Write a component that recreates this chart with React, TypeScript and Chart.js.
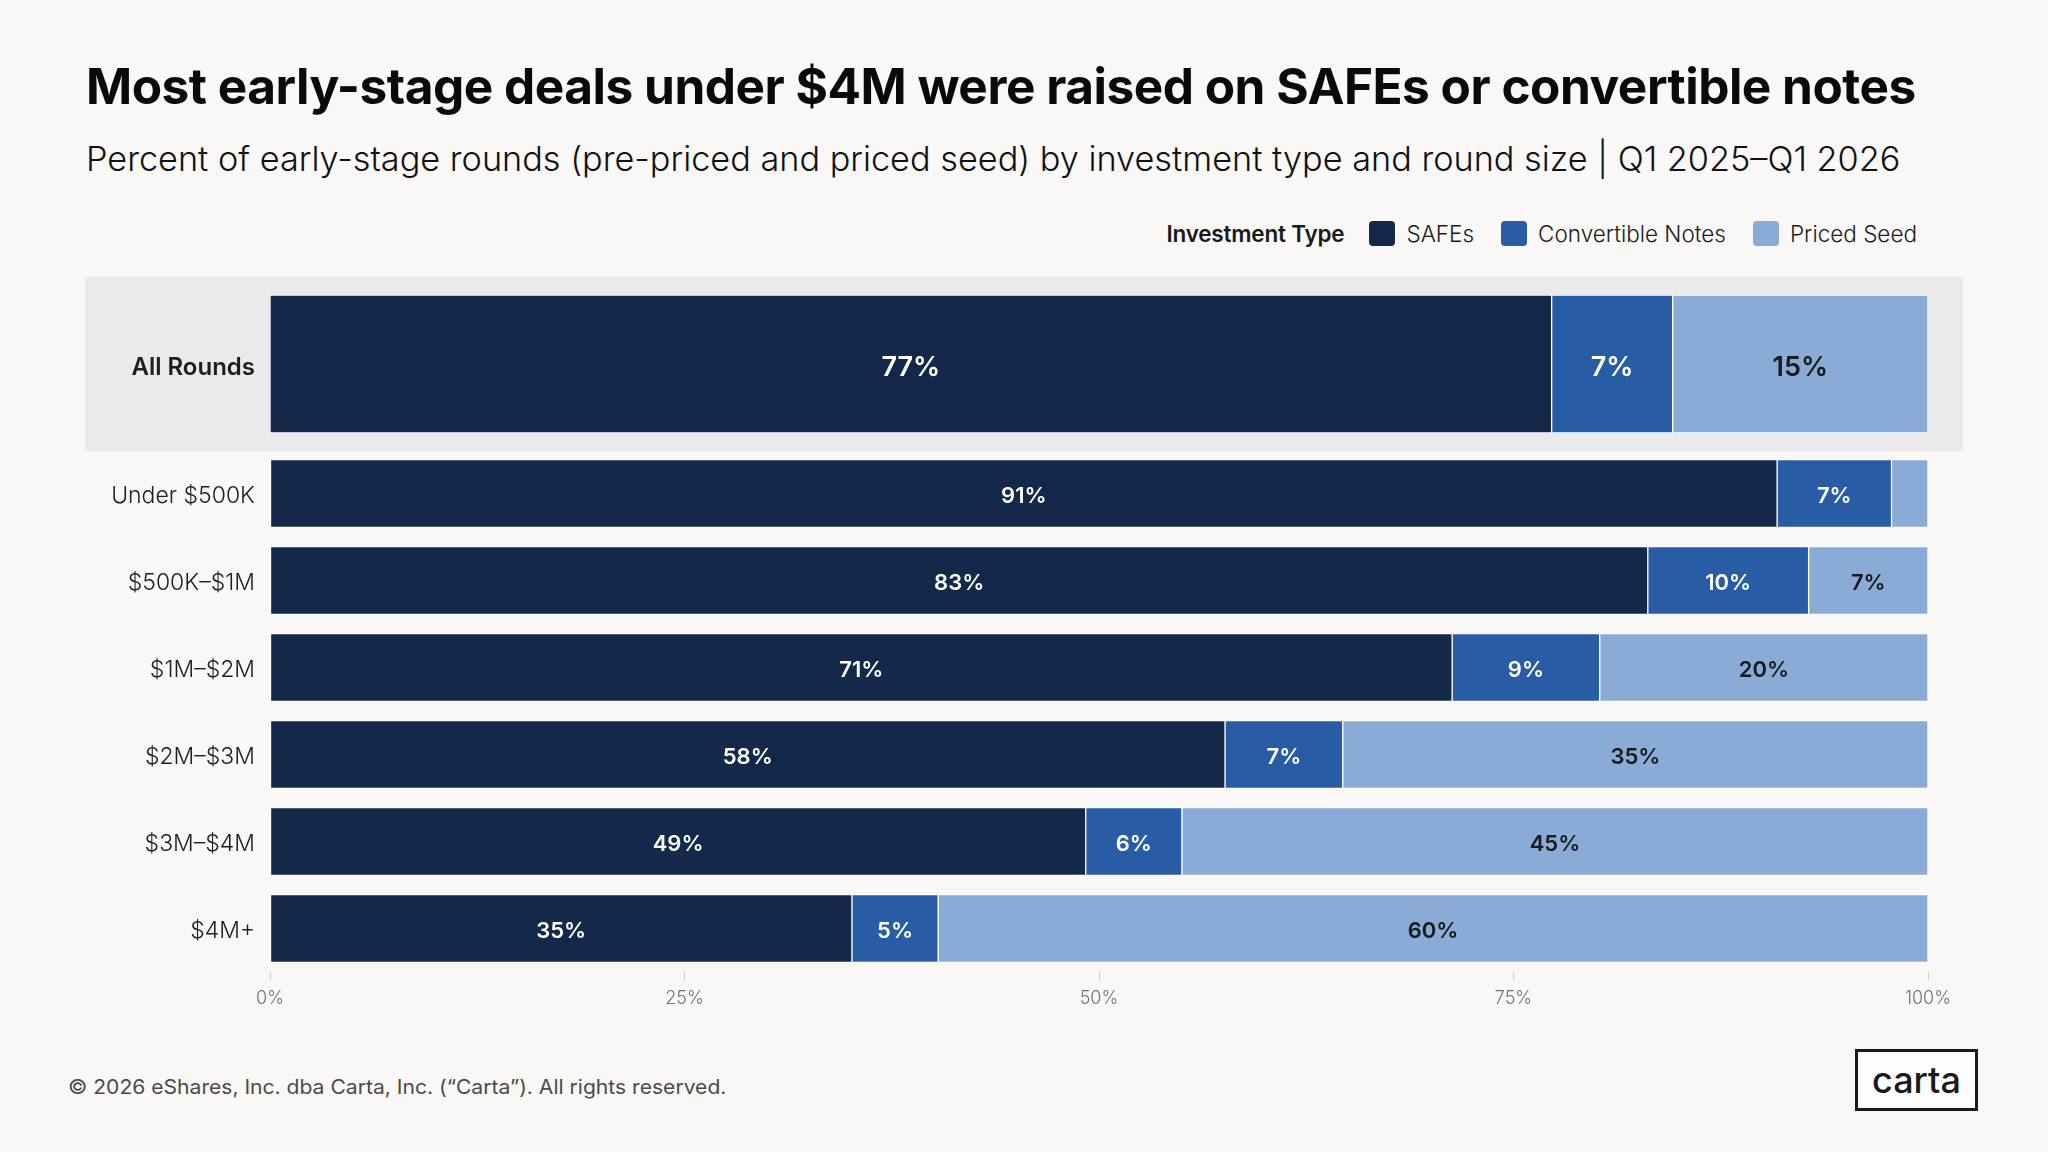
import React, { useEffect, useLayoutEffect, useRef } from 'react';
import { Chart, registerables } from 'chart.js';

Chart.register(...registerables);

const FONT = "Inter, 'Noto Sans', sans-serif";

const TITLE = 'Most early-stage deals under $4M were raised on SAFEs or convertible notes';
const SUBTITLE = 'Percent of early-stage rounds (pre-priced and priced seed) by investment type and round size | Q1 2025–Q1 2026';
const FOOTER = '© 2026 eShares, Inc. dba Carta, Inc. (“Carta”). All rights reserved.';
const LOGO = 'carta';
const LEGEND_TITLE = 'Investment Type';

const SERIES_NAMES = ['SAFEs', 'Convertible Notes', 'Priced Seed'];
const SERIES_COLORS = ['#14284A', '#285DA5', '#8AABD6'];
const SERIES_LABEL_COLORS = ['#FFFFFF', '#FFFFFF', '#1A1A1A'];

const ALL_ROUNDS_LABEL = ['All Rounds'];
const ALL_SAFES = [77.3];
const ALL_CONVERTIBLE = [7.3];
const ALL_PRICED = [15.4];

const SIZE_LABELS = ['Under $500K', '$500K–$1M', '$1M–$2M', '$2M–$3M', '$3M–$4M', '$4M+'];
const SIZE_SAFES = [90.9, 83.1, 71.3, 57.6, 49.2, 35.1];
const SIZE_CONVERTIBLE = [6.9, 9.7, 8.9, 7.1, 5.8, 5.2];
const SIZE_PRICED = [2.2, 7.2, 19.8, 35.3, 45.0, 59.7];

const X_TICKS = [0, 25, 50, 75, 100];
const LABEL_MIN = 3;

function barLabelPlugin(fontSize: number, weight: number, dy: number) {
  return {
    id: 'barLabels',
    afterDatasetsDraw(chart: any) {
      const ctx = chart.ctx;
      ctx.save();
      ctx.font = `${weight} ${fontSize}px ${FONT}`;
      ctx.textAlign = 'center';
      ctx.textBaseline = 'middle';
      chart.data.datasets.forEach((ds: any, i: number) => {
        const meta = chart.getDatasetMeta(i);
        meta.data.forEach((el: any, j: number) => {
          const v = ds.data[j];
          if (v == null || v < LABEL_MIN) return;
          const p = el.getProps(['x', 'base', 'y'], true);
          ctx.fillStyle = SERIES_LABEL_COLORS[i];
          ctx.fillText(`${Math.round(v)}%`, (p.x + p.base) / 2, p.y + dy);
        });
      });
      ctx.restore();
    },
  };
}

type BarsProps = {
  labels: string[];
  series: number[][];
  top: number;
  height: number;
  barThickness: number;
  catFont: { size: number; weight: number };
  valueFont: { size: number; weight: number };
  labelDy: number;
  showAxis: boolean;
  axisHeight: number;
};

function StackedBars(props: BarsProps) {
  const ref = useRef<HTMLCanvasElement>(null);
  useEffect(() => {
    const chart = new Chart(ref.current as HTMLCanvasElement, {
      type: 'bar',
      data: {
        labels: props.labels,
        datasets: props.series.map((d, i) => ({
          label: SERIES_NAMES[i],
          data: d,
          backgroundColor: SERIES_COLORS[i],
          borderColor: 'rgba(255,255,255,0.95)',
          borderWidth: 1,
          borderSkipped: false,
          barThickness: props.barThickness,
        })),
      },
      options: {
        indexAxis: 'y',
        responsive: false,
        animation: false,
        devicePixelRatio: 1,
        layout: { padding: { left: 0, right: 120, top: 0, bottom: 0 } },
        plugins: { legend: { display: false }, tooltip: { enabled: false } },
        scales: {
          x: {
            stacked: true,
            min: 0,
            max: 100,
            display: props.showAxis,
            afterBuildTicks: (s: any) => {
              s.ticks = X_TICKS.map((v) => ({ value: v }));
            },
            afterFit: (s: any) => {
              s.height = props.axisHeight;
            },
            grid: {
              display: true,
              drawOnChartArea: false,
              drawTicks: true,
              tickLength: 8,
              color: '#C9C9C9',
              lineWidth: 1,
            },
            border: { display: false },
            ticks: {
              callback: (v: any) => `${v}%`,
              color: '#737373',
              padding: 8,
              font: { family: FONT, size: 18, weight: 300 },
              maxRotation: 0,
            },
          },
          y: {
            stacked: true,
            afterFit: (s: any) => {
              s.width = 270;
              s.paddingTop = 0;
              s.paddingBottom = 0;
            },
            grid: { display: false, drawTicks: false, tickLength: 0 },
            border: { display: false },
            ticks: {
              color: '#1E1E1E',
              padding: 15,
              labelOffset: props.labelDy,
              font: { family: FONT, size: props.catFont.size, weight: props.catFont.weight },
            },
          },
        },
      } as any,
      plugins: [barLabelPlugin(props.valueFont.size, props.valueFont.weight, props.labelDy)],
    });
    return () => chart.destroy();
  }, []);
  return (
    <canvas
      ref={ref}
      width={2048}
      height={props.height}
      style={{ position: 'absolute', left: 0, top: props.top, width: 2048, height: props.height }}
    />
  );
}

function FitText(props: { text: string; width: number; style: React.CSSProperties }) {
  const ref = useRef<HTMLSpanElement>(null);
  useLayoutEffect(() => {
    const fit = () => {
      const el = ref.current;
      if (!el) return;
      const w = el.offsetWidth;
      if (w > 0) el.style.transform = `scaleX(${props.width / w})`;
    };
    fit();
    if ((document as any).fonts && (document as any).fonts.ready) {
      (document as any).fonts.ready.then(fit);
    }
  }, []);
  return (
    <span
      ref={ref}
      style={{
        position: 'absolute',
        whiteSpace: 'nowrap',
        display: 'inline-block',
        transformOrigin: 'left top',
        lineHeight: 1,
        ...props.style,
      }}
    >
      {props.text}
    </span>
  );
}

export default function App() {
  useEffect(() => {
    document.body.style.margin = '0';
  }, []);
  return (
    <div
      style={{
        position: 'fixed',
        left: 0,
        top: 0,
        width: 2048,
        height: 1152,
        background: '#F9F8F6',
        fontFamily: FONT,
        overflow: 'hidden',
      }}
    >
      <FitText
        text={TITLE}
        width={1830}
        style={{ left: 86, top: 61, fontSize: 50, fontWeight: 700, color: '#0A0A0A', letterSpacing: -0.5 }}
      />
      <FitText
        text={SUBTITLE}
        width={1814}
        style={{ left: 86, top: 142, fontSize: 34, fontWeight: 300, color: '#111111' }}
      />

      <div
        style={{
          position: 'absolute',
          right: 131,
          top: 220,
          height: 26,
          display: 'flex',
          alignItems: 'center',
          fontSize: 22.5,
          color: '#1A1A1A',
        }}
      >
        <span style={{ fontWeight: 600, marginRight: 25, letterSpacing: -0.2 }}>{LEGEND_TITLE}</span>
        {SERIES_NAMES.map((n, i) => (
          <span key={n} style={{ display: 'flex', alignItems: 'center', marginLeft: i === 0 ? 0 : 27 }}>
            <span
              style={{
                display: 'inline-block',
                width: 26,
                height: 25,
                borderRadius: 4,
                background: SERIES_COLORS[i],
                marginRight: 11,
              }}
            />
            <span style={{ fontWeight: 300 }}>{n}</span>
          </span>
        ))}
      </div>

      <div
        style={{ position: 'absolute', left: 85, top: 277, width: 1878, height: 174, background: '#EAEAEA' }}
      />
      <StackedBars
        labels={ALL_ROUNDS_LABEL}
        series={[ALL_SAFES, ALL_CONVERTIBLE, ALL_PRICED]}
        top={277}
        height={174}
        barThickness={138}
        catFont={{ size: 24, weight: 600 }}
        valueFont={{ size: 27, weight: 600 }}
        labelDy={4}
        showAxis={false}
        axisHeight={0}
      />
      <StackedBars
        labels={SIZE_LABELS}
        series={[SIZE_SAFES, SIZE_CONVERTIBLE, SIZE_PRICED]}
        top={450}
        height={600}
        barThickness={68}
        catFont={{ size: 23, weight: 300 }}
        valueFont={{ size: 22, weight: 600 }}
        labelDy={3}
        showAxis={true}
        axisHeight={78}
      />

      <FitText
        text={FOOTER}
        width={658}
        style={{ left: 68, top: 1077, fontSize: 20, fontWeight: 400, color: '#4A4A4A' }}
      />
      <div
        style={{
          position: 'absolute',
          left: 1855,
          top: 1049,
          width: 123,
          height: 62,
          boxSizing: 'border-box',
          border: '3px solid #1A1A1A',
          display: 'flex',
          alignItems: 'center',
          justifyContent: 'center',
          fontSize: 36,
          fontWeight: 500,
          color: '#1A1A1A',
          letterSpacing: 0,
          background: '#FDFDFD',
        }}
      >
        {LOGO}
      </div>
    </div>
  );
}
